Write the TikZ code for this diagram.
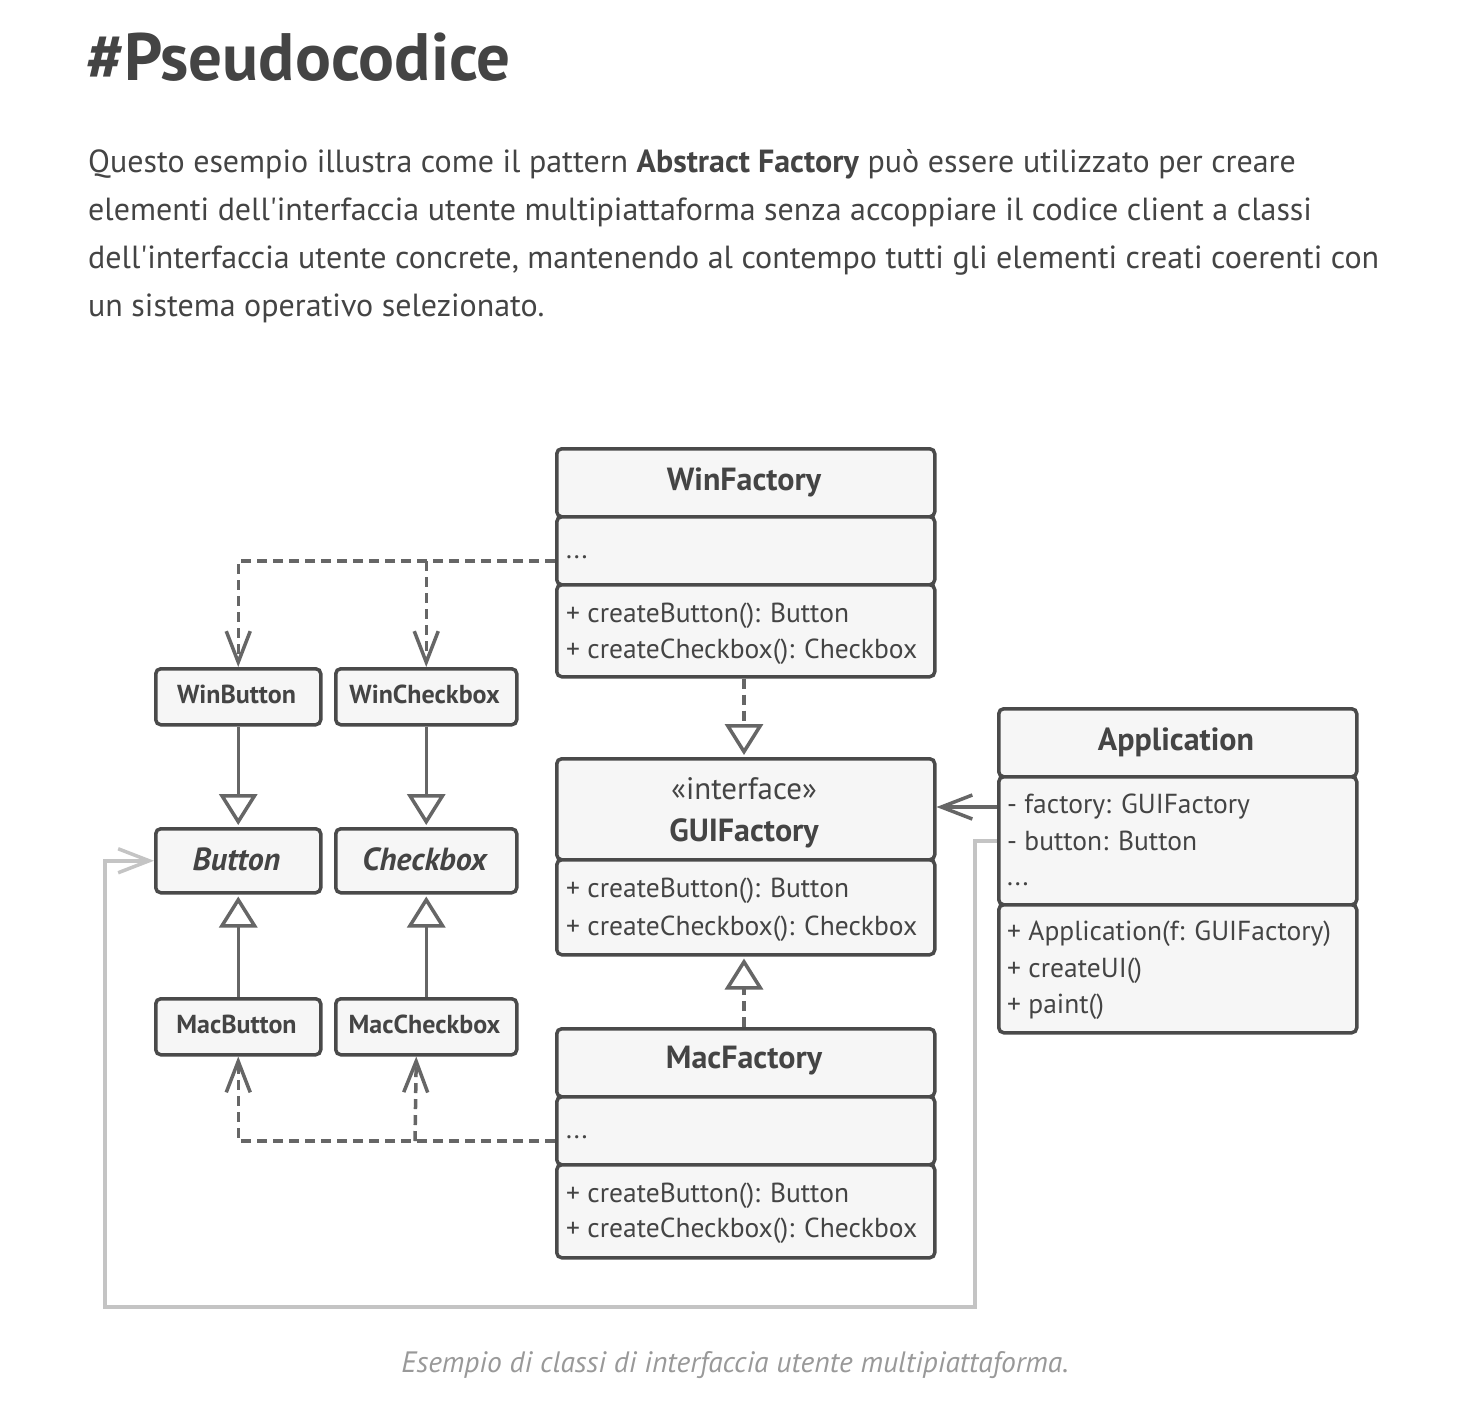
\documentclass[tikz,border=0pt]{standalone}
\usepackage{fontspec}
\setmainfont{PT Sans}[Ligatures=TeXOff]
\usetikzlibrary{arrows.meta}
\definecolor{txt}{HTML}{444444}
\definecolor{boxline}{HTML}{4A4A4A}
\definecolor{boxfill}{HTML}{F6F6F6}
\definecolor{wire}{HTML}{666666}
\definecolor{lightwire}{HTML}{C4C4C4}
\definecolor{captxt}{HTML}{999999}
\newcommand{\fs}[1]{\fontsize{#1}{#1}\selectfont}
\tikzset{
  sec/.style={draw=boxline, fill=boxfill, line width=3.5pt, rounded corners=5pt,
    inner sep=0pt, anchor=north west},
  member/.style={anchor=base west, inner sep=0pt, text=txt, font=\fs{27.5}},
  cname/.style={anchor=base, inner sep=0pt, text=txt, font=\fs{32}\bfseries},
  sname/.style={anchor=base, inner sep=0pt, text=txt, font=\fs{26}\bfseries},
  para/.style={anchor=base west, inner sep=0pt, text=txt, font=\fs{32}},
  wirebase/.style={draw=wire, line width=3.5pt},
  dep/.style={wirebase, dash pattern=on 10pt off 6pt,
    -{Straight Barb[length=31pt,width=24pt]}},
  realize/.style={wirebase, dash pattern=on 10pt off 6pt,
    -{Triangle[length=31pt,width=38pt,fill=white]}, shorten >=2pt},
  inherit/.style={wirebase, -{Triangle[length=31pt,width=38pt,fill=white]}, shorten >=2pt},
  assoc/.style={wirebase, -{Straight Barb[length=31pt,width=24pt]}},
  lightassoc/.style={draw=lightwire, line width=3.5pt,
    -{Straight Barb[length=31pt,width=24pt]}},
}
\begin{document}
\begin{tikzpicture}[x=1pt,y=-1pt]
\fill[white] (0,0) rectangle (1457,1409);
\useasboundingbox (0,0) rectangle (1457,1409);

% heading and introduction
\node[anchor=base west, inner sep=0pt, text=txt, font=\fs{67}\bfseries] (title) at (86,80) {\#Pseudocodice};
\node[para] (p1) at (88,172)
  {Questo esempio illustra come il pattern \textbf{Abstract Factory} può essere utilizzato per creare};
\node[para] (p2) at (88,220)
  {elementi dell'interfaccia utente multipiattaforma senza accoppiare il codice client a classi};
\node[para] (p3) at (88,268)
  {dell'interfaccia utente concrete, mantenendo al contempo tutti gli elementi creati coerenti con};
\node[para] (p4) at (88,316)
  {un sistema operativo selezionato.};

% WinFactory
\node[sec, minimum width=378pt, minimum height=68pt] (wfh) at (555,447) {};
\node[sec, minimum width=378pt, minimum height=68pt] (wfa) at (555,515) {};
\node[sec, minimum width=378pt, minimum height=92pt] (wfm) at (555,583) {};
\node[cname] (wfname) at (744,490) {WinFactory};
\node[member] (wfdots) at (566,558) {...};
\node[member] (wfm1) at (566,622) {+ createButton(): Button};
\node[member] (wfm2) at (566,658) {+ createCheckbox(): Checkbox};

% GUIFactory
\node[sec, minimum width=378pt, minimum height=101pt] (gfh) at (555,757) {};
\node[sec, minimum width=378pt, minimum height=95pt] (gfm) at (555,858) {};
\node[anchor=base, inner sep=0pt, text=txt, font=\fs{31}] (gfstereo) at (744,799) {«interface»};
\node[cname] (gfname) at (744,841) {GUIFactory};
\node[member] (gfm1) at (566,897) {+ createButton(): Button};
\node[member] (gfm2) at (566,935) {+ createCheckbox(): Checkbox};

% MacFactory
\node[sec, minimum width=378pt, minimum height=68pt] (mfh) at (555,1027) {};
\node[sec, minimum width=378pt, minimum height=68pt] (mfa) at (555,1095) {};
\node[sec, minimum width=378pt, minimum height=93pt] (mfm) at (555,1163) {};
\node[cname] (mfname) at (744,1068) {MacFactory};
\node[member] (mfdots) at (566,1138) {...};
\node[member] (mfm1) at (566,1202) {+ createButton(): Button};
\node[member] (mfm2) at (566,1237) {+ createCheckbox(): Checkbox};

% Application
\node[sec, minimum width=358pt, minimum height=68pt] (aph) at (997,707) {};
\node[sec, minimum width=358pt, minimum height=128pt] (apa) at (997,775) {};
\node[sec, minimum width=358pt, minimum height=128pt] (apm) at (997,903) {};
\node[cname] (apname) at (1176,750) {Application};
\node[member] (apa1) at (1007,813) {- factory: GUIFactory};
\node[member] (apa2) at (1007,850) {- button: Button};
\node[member] (apa3) at (1007,885) {...};
\node[member] (apm1) at (1007,940) {+ Application(f: GUIFactory)};
\node[member] (apm2) at (1007,977) {+ createUI()};
\node[member] (apm3) at (1007,1013) {+ paint()};

% products
\node[sec, minimum width=165pt, minimum height=56pt] (winbtn) at (154,667) {};
\node[sec, minimum width=181pt, minimum height=56pt] (wincb) at (334,667) {};
\node[sec, minimum width=165pt, minimum height=64pt] (btn) at (154,827) {};
\node[sec, minimum width=181pt, minimum height=64pt] (chk) at (334,827) {};
\node[sec, minimum width=165pt, minimum height=56pt] (macbtn) at (154,997) {};
\node[sec, minimum width=181pt, minimum height=56pt] (maccb) at (334,997) {};
\node[sname] (winbtnname) at (236.5,703) {WinButton};
\node[sname] (wincbname) at (424.5,703) {WinCheckbox};
\node[cname, font=\fs{32}\bfseries\itshape] (btnname) at (236.5,870) {Button};
\node[cname, font=\fs{32}\bfseries\itshape] (chkname) at (424.5,870) {Checkbox};
\node[sname] (macbtnname) at (236.5,1033) {MacButton};
\node[sname] (maccbname) at (424.5,1033) {MacCheckbox};

% connectors
\coordinate (wfout) at (555,561);
\coordinate (mfout) at (555,1141);
\draw[dep] (wfout) -| (winbtn.north);
\draw[dep] (wfout -| wincb.north) -- (wincb.north);
\draw[dep] (mfout) -| (macbtn.south);
\draw[dep] (mfout -| 415,0) -- ([xshift=-10pt]maccb.south);

\draw[inherit] (winbtn.south) -- (btn.north);
\draw[inherit] (wincb.south) -- (chk.north);
\draw[inherit] (macbtn.north) -- (btn.south);
\draw[inherit] (maccb.north) -- (chk.south);

\draw[realize] (wfm.south -| 744,0) -- (gfh.north -| 744,0);
\draw[realize] (mfh.north -| 744,0) -- (gfm.south -| 744,0);

\coordinate (apout1) at (997,807);
\draw[assoc] (apout1) -- (apout1 -| gfh.east);

\coordinate (apout2) at (997,841);
\coordinate (loopA) at (975,1307);
\coordinate (loopB) at (105,1307);
\draw[lightassoc] (apout2) -| (loopA) -- (loopB) |- (btn.west);

% caption
\node[anchor=base, inner sep=0pt, text=captxt, font=\fs{29.5}\itshape] (caption) at (735,1372)
  {Esempio di classi di interfaccia utente multipiattaforma.};
\end{tikzpicture}
\end{document}
